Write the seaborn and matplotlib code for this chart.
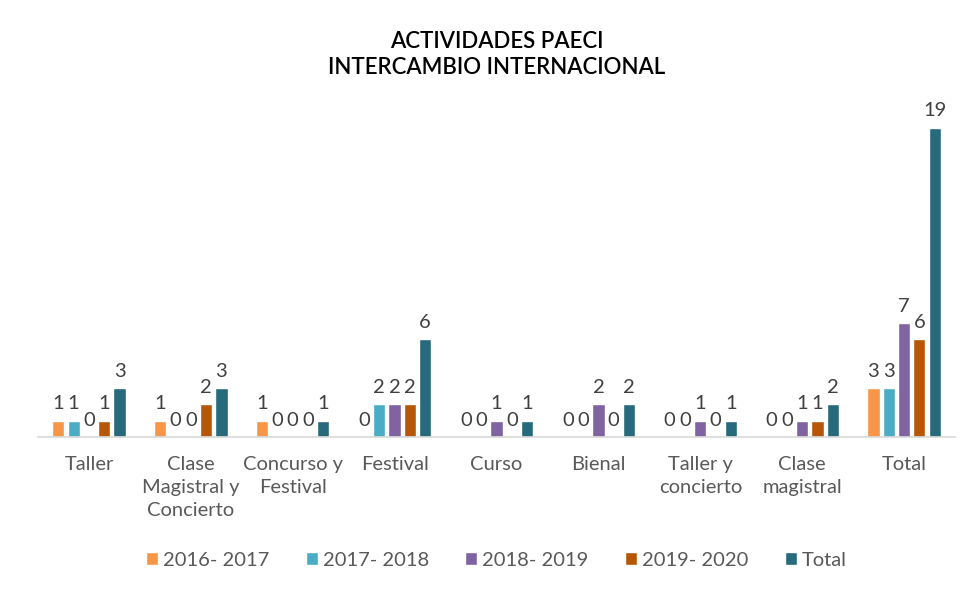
import matplotlib
matplotlib.use("Agg")
import matplotlib.pyplot as plt
import seaborn as sns
import pandas as pd

categories = ["Taller", "Clase\nMagistral y\nConcierto", "Concurso y\nFestival", "Festival",
              "Curso", "Bienal", "Taller y\nconcierto", "Clase\nmagistral", "Total"]
series = ["2016- 2017", "2017- 2018", "2018- 2019", "2019- 2020", "Total"]
v_2016 = [1, 1, 1, 0, 0, 0, 0, 0, 3]
v_2017 = [1, 0, 0, 2, 0, 0, 0, 0, 3]
v_2018 = [0, 0, 0, 2, 1, 2, 1, 1, 7]
v_2019 = [1, 2, 0, 2, 0, 0, 0, 1, 6]
v_total = [3, 3, 1, 6, 1, 2, 1, 2, 19]
colors = ["#F79646", "#4BACC6", "#8064A2", "#B65708", "#276A7C"]

rows = []
for s, vals in zip(series, [v_2016, v_2017, v_2018, v_2019, v_total]):
    for c, v in zip(categories, vals):
        rows.append({"cat": c, "serie": s, "val": v})
df = pd.DataFrame(rows)

sns.set_theme(style="white")
plt.rcParams["font.family"] = ["Lato", "DejaVu Sans"]

fig = plt.figure(figsize=(9.7, 5.92), dpi=100)
ax = fig.add_axes([38/970, 1-437/592, (955-38)/970, (437-95)/592])

sns.barplot(data=df, x="cat", y="val", hue="serie", order=categories, hue_order=series,
            palette=colors, width=0.75, gap=0.2, ax=ax, errorbar=None, saturation=1)

for cont in ax.containers:
    ax.bar_label(cont, fmt="%d", padding=6, fontsize=14.5, color="#404040")

ax.set_ylim(0, 21)
ax.set_xlim(-0.5, len(categories) - 0.5)
ax.set_xlabel("")
ax.set_ylabel("")
ax.set_yticks([])
for s in ["left", "right", "top"]:
    ax.spines[s].set_visible(False)
ax.spines["bottom"].set_color("#D9D9D9")
ax.spines["bottom"].set_linewidth(1.2)
ax.tick_params(axis="x", length=0, pad=14, labelsize=14.5, labelcolor="#595959")
for lbl in ax.get_xticklabels():
    lbl.set_linespacing(1.4)

leg = ax.legend(loc="center", bbox_to_anchor=(0.5, -(560-437)/342), ncol=5, frameon=False,
                fontsize=14.5, handlelength=0.6, handleheight=0.6, handletextpad=0.25,
                columnspacing=1.8, labelcolor="#595959")

ax.set_title("ACTIVIDADES PAECI\nINTERCAMBIO INTERNACIONAL", fontsize=16, fontweight="semibold",
             color="#000000", pad=15, linespacing=1.3)

fig.savefig("out.png", dpi=100)
